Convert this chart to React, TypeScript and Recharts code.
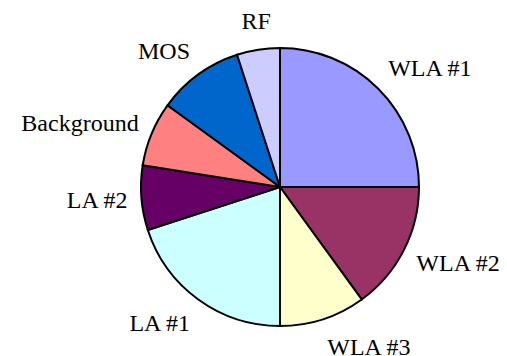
import { PieChart, Pie, Cell } from "recharts";

const labels = ["WLA #1", "WLA #2", "WLA #3", "LA #1", "LA #2", "Background", "MOS", "RF"];
const shares = [25, 15, 10, 20, 7.5, 7.5, 10, 5];
const colors = ["#9999FF", "#993366", "#FFFFCC", "#CCFFFF", "#660066", "#FF8080", "#0066CC", "#CCCCFF"];

const slices = labels.map((name, i) => ({ name, value: shares[i] }));

const RAD = Math.PI / 180;
const FONT = 24;

// label sits outside its slice; the side facing the pie touches r + gap
function renderLabel(props: any) {
  const { cx, cy, midAngle, outerRadius, name } = props;
  const r = outerRadius + 14;
  const cos = Math.cos(-midAngle * RAD);
  const sin = Math.sin(midAngle * RAD);
  const x = cx + r * cos;
  const y = cy - r * sin;
  let anchor: "start" | "end" | "middle" = "middle";
  if (cos > 0.2) anchor = "start";
  else if (cos < -0.2) anchor = "end";
  const baseline = y - sin * FONT * 0.62 + FONT * 0.33;
  return (
    <g>
      <text x={x} y={baseline} textAnchor={anchor} fill="black" fontFamily="Liberation Serif" fontSize={FONT}>
        {name}
      </text>
    </g>
  );
}

export default function App() {
  return (
    <div style={{ width: 507, height: 356, background: "#fff" }}>
      <style>{`body{margin:0}`}</style>
      <PieChart width={507} height={356} margin={{ top: 0, right: 0, bottom: 0, left: 0 }}>
        <Pie
          data={slices}
          dataKey="value"
          nameKey="name"
          cx={280}
          cy={187}
          outerRadius={139}
          startAngle={90}
          endAngle={-270}
          stroke="#000"
          strokeWidth={2}
          label={renderLabel}
          labelLine={false}
          isAnimationActive={false}
        >
          {slices.map((s, i) => (
            <Cell key={s.name} fill={colors[i]} />
          ))}
        </Pie>
      </PieChart>
    </div>
  );
}
